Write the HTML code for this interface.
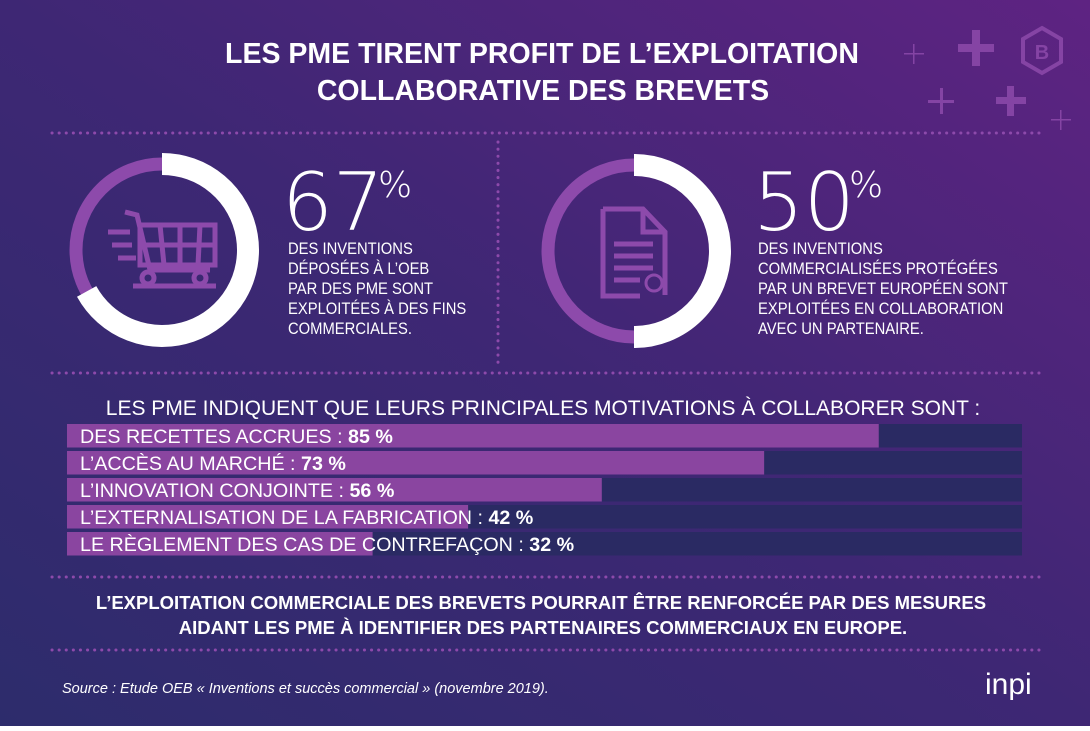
<!DOCTYPE html>
<html><head><meta charset="utf-8"><style>
body{margin:0;width:1090px;height:726px;overflow:hidden;font-family:"Liberation Sans",sans-serif}
svg text{font-family:"Liberation Sans Narrow","Liberation Sans",sans-serif}
svg text.thin{font-family:"DejaVu Sans ExtraLight","DejaVu Sans","Liberation Sans",sans-serif;font-weight:200}
</style></head><body>
<svg width="1090" height="726" viewBox="0 0 1090 726">
<defs>
<linearGradient id="bg" x1="0" y1="1" x2="1" y2="0">
<stop offset="0" stop-color="#2d2c6c"/><stop offset="0.5" stop-color="#3e2774"/><stop offset="1" stop-color="#5e2382"/>
</linearGradient>
</defs>
<rect width="1090" height="726" fill="url(#bg)"/>
<g fill="#8d4aab" opacity="0.85">
<rect x="958" y="44" width="36" height="8"/><rect x="972" y="30" width="8" height="36"/>
<rect x="996" y="97" width="30" height="7"/><rect x="1007" y="86" width="7" height="30"/>
<rect x="928" y="100" width="26" height="3"/><rect x="940" y="88" width="3" height="26"/>
<rect x="904" y="53" width="20" height="1.5"/><rect x="913" y="44" width="1.5" height="20"/>
<rect x="1051" y="119" width="20" height="1.5"/><rect x="1060" y="110" width="1.5" height="20"/>
<polygon points="1042,28 1061,39 1061,62 1042,73 1023,62 1023,39" fill="none" stroke="#8d4aab" stroke-width="4"/>
<text x="1042" y="59" font-size="20" font-weight="bold" text-anchor="middle" fill="#8d4aab">B</text>
</g>
<g fill="#fff" font-weight="bold" font-size="28.5" text-anchor="middle">
<text x="542" y="63">LES PME TIRENT PROFIT DE L’EXPLOITATION</text>
<text x="543" y="100">COLLABORATIVE DES BREVETS</text>
</g>
<g stroke="#8d4aab" stroke-width="3" stroke-dasharray="0.1 7" stroke-linecap="round">
<line x1="52" y1="133" x2="1040" y2="133"/><line x1="498" y1="142" x2="498" y2="366"/>
<line x1="52" y1="373" x2="1040" y2="373"/><line x1="52" y1="577" x2="1040" y2="577"/>
<line x1="52" y1="650" x2="1040" y2="650"/>
</g>
<g id="donuts"></g>
<g fill="none" stroke="#8d4aab" stroke-width="5">
<path d="M125 212 L137 215 L150 270 L210 270"/><rect x="140" y="225" width="75" height="40"/>
<line x1="160" y1="225" x2="164" y2="265"/><line x1="180" y1="225" x2="180" y2="265"/><line x1="200" y1="225" x2="198" y2="265"/><line x1="140" y1="245" x2="215" y2="245"/>
<line x1="108" y1="232" x2="130" y2="232"/><line x1="112" y1="245" x2="132" y2="245"/><line x1="118" y1="258" x2="136" y2="258"/>
<line x1="133" y1="286" x2="216" y2="286"/><circle cx="148" cy="278" r="6"/><circle cx="200" cy="278" r="6"/>
</g>
<g fill="none" stroke="#8d4aab" stroke-width="5">
<path d="M603 209 L643 209 L665 232 L665 295 M603 209 L603 296 L640 296"/><path d="M643 209 L643 232 L665 232"/>
<line x1="614" y1="244" x2="653" y2="244"/><line x1="614" y1="256" x2="653" y2="256"/><line x1="614" y1="268" x2="653" y2="268"/><line x1="614" y1="280" x2="640" y2="280"/>
<circle cx="654" cy="283" r="8" stroke-width="3"/>
</g>
<g fill="#fff">
<text class="thin" x="282" y="230" font-size="80">67</text>
<text class="thin" x="378" y="197" font-size="36">%</text>
<g transform="translate(288,0) scale(0.87,1)" font-size="17"><text x="0" y="254">DES INVENTIONS</text><text x="0" y="274">DÉPOSÉES À L’OEB</text><text x="0" y="294">PAR DES PME SONT</text><text x="0" y="314">EXPLOITÉES À DES FINS</text><text x="0" y="334">COMMERCIALES.</text></g>
</g>
<g fill="#fff">
<text class="thin" x="753" y="230" font-size="80">50</text>
<text class="thin" x="849" y="197" font-size="36">%</text>
<g transform="translate(758,0) scale(0.87,1)" font-size="17"><text x="0" y="254">DES INVENTIONS</text><text x="0" y="274">COMMERCIALISÉES PROTÉGÉES</text><text x="0" y="294">PAR UN BREVET EUROPÉEN SONT</text><text x="0" y="314">EXPLOITÉES EN COLLABORATION</text><text x="0" y="334">AVEC UN PARTENAIRE.</text></g>
</g>
<text x="543" y="415" font-size="21" fill="#fff" text-anchor="middle">LES PME INDIQUENT QUE LEURS PRINCIPALES MOTIVATIONS À COLLABORER SONT :</text>
<g id="bars"></g>
<g fill="#fff" font-weight="bold" font-size="18.5" text-anchor="middle">
<text x="541" y="609">L’EXPLOITATION COMMERCIALE DES BREVETS POURRAIT ÊTRE RENFORCÉE PAR DES MESURES</text>
<text x="543" y="634">AIDANT LES PME À IDENTIFIER DES PARTENAIRES COMMERCIAUX EN EUROPE.</text>
</g>
<text x="62" y="693" font-size="14.5" font-style="italic" fill="#fff">Source : Etude OEB « Inventions et succès commercial » (novembre 2019).</text>
<text x="985" y="694" font-size="30" fill="#fff">inpi</text>
</svg>
<script>
const barLabels=["DES RECETTES ACCRUES : ","L’ACCÈS AU MARCHÉ : ","L’INNOVATION CONJOINTE : ","L’EXTERNALISATION DE LA FABRICATION : ","LE RÈGLEMENT DES CAS DE CONTREFAÇON : "];
const barValues=[85,73,56,42,32];
const donutValues=[67,50];
const NS="http://www.w3.org/2000/svg";
const x0=67,trackW=955,y0=424,rowH=23.5,pitch=27;
const xScale=v=>v/100*trackW;
const bars=document.getElementById('bars');
function mk(t,a){const e=document.createElementNS(NS,t);for(const k in a)e.setAttribute(k,a[k]);return e;}
barValues.forEach((v,i)=>{
 const y=y0+i*pitch;
 const tr=mk('rect',{x:x0,y:y,width:trackW,height:rowH,fill:'#2a2a63'});
 
 
 bars.appendChild(tr);
 const b=mk('rect',{x:x0,y:y,width:xScale(v),height:rowH,fill:'#8a45a0'});
 
 
 bars.appendChild(b);
 const t=mk('text',{x:80,y:y+19,'font-size':19.7,fill:'#fff'});
 
 
 t.textContent=barLabels[i];
 const s=mk('tspan',{'font-weight':'bold'});s.textContent=v+' %';t.appendChild(s);
 bars.appendChild(t);
});
const donuts=document.getElementById('donuts');
const centers=[[162,250],[634,251]];
donutValues.forEach((v,i)=>{
 const [cx,cy]=centers[i];
 const bgc=mk('circle',{cx:cx,cy:cy,r:86,fill:'none',stroke:'#8d4aab','stroke-width':13});
 
 
 donuts.appendChild(bgc);
 const r=86,a=v/100*2*Math.PI;
 const x1=cx,y1=cy-r,x2=cx+r*Math.sin(a),y2=cy-r*Math.cos(a);
 const p=mk('path',{d:`M${x1} ${y1} A${r} ${r} 0 ${v>50?1:0} 1 ${x2} ${y2}`,fill:'none',stroke:'#fff','stroke-width':22});
 
 
 donuts.appendChild(p);
});
</script>
</body></html>
